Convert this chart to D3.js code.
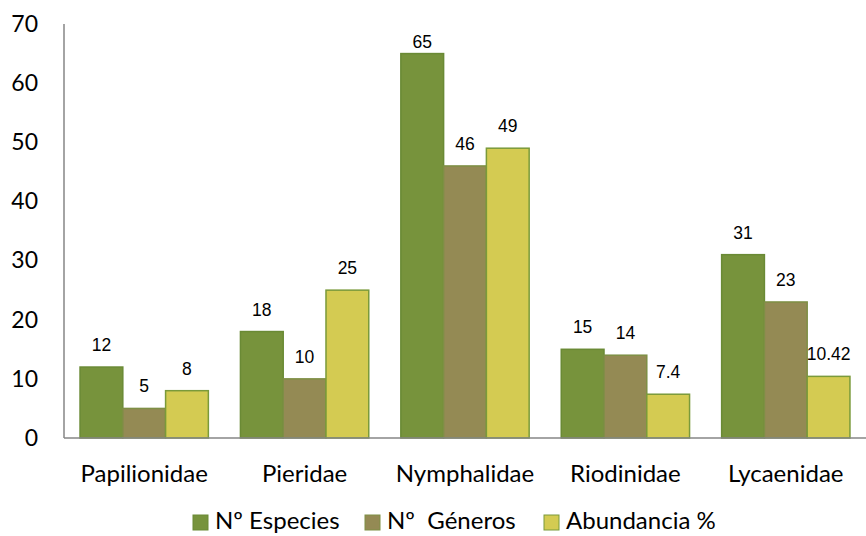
<!DOCTYPE html>
<html><head><meta charset="utf-8">
<script src="https://cdn.jsdelivr.net/npm/d3@7"></script>
<style>body{margin:0;background:#fff}svg{display:block}</style>
</head><body><svg id="c" width="866" height="536"></svg>
<script>
const categories = ["Papilionidae","Pieridae","Nymphalidae","Riodinidae","Lycaenidae"];
const seriesNames = ["Nº Especies","Nº  Géneros","Abundancia %"];
const especies = [12,18,65,15,31];
const generos = [5,10,46,14,23];
const abundancia = [8,25,49,7.4,10.42];
const labelsText = [["12","18","65","15","31"],["5","10","46","14","23"],["8","25","49","7.4","10.42"]];
const yTicks = [0,10,20,30,40,50,60,70];
const colors = ["#77933C","#948A54","#D4CB52"];
const strokes = ["#6A8A35","#7E8F45","#7A9A3A"];
const series = [especies, generos, abundancia];

const FONT = "Lato, 'Open Sans', sans-serif";
const svg = d3.select("#c");
const mLeft = 64, mRight = 866, mTop = 24, mBottom = 438;
const x = d3.scaleBand().domain(categories).range([mLeft, mRight]).paddingInner(0.2).paddingOuter(0.1);
const xs = d3.scaleBand().domain(d3.range(3)).range([0, x.bandwidth()]);
const y = d3.scaleLinear().domain([0,70]).range([mBottom, mTop]);

// y axis line
svg.append("line").attr("x1",mLeft).attr("x2",mLeft).attr("y1",mTop).attr("y2",mBottom).attr("stroke","#868686").attr("stroke-width",1.5);
const yAxis = d3.axisLeft(y).tickValues(yTicks).tickSize(0).tickPadding(26);
const ga = svg.append("g").attr("transform",`translate(${mLeft},0)`).call(yAxis);
ga.select(".domain").remove();
ga.selectAll("text").attr("font-family",FONT).attr("font-size",23).attr("font-weight",400).attr("fill","#000");

// bars
series.forEach((vals, si) => {
  const g = svg.append("g");
  g.selectAll("rect").data(vals).join("rect")
    .attr("x",(d,i)=>x(categories[i])+xs(si))
    .attr("y",d=>y(d))
    .attr("width",xs.bandwidth())
    .attr("height",d=>y(0)-y(d))
    .attr("fill",colors[si]).attr("stroke",strokes[si]).attr("stroke-width",1.5);
  g.selectAll("text").data(vals).join("text")
    .attr("x",(d,i)=>x(categories[i])+xs(si)+xs.bandwidth()/2)
    .attr("y",d=>Math.max(y(d)-16, 48))
    .attr("text-anchor","middle")
    .attr("font-family","'Liberation Sans', Arial, sans-serif").attr("font-size",17.5).attr("fill","#000")
    .text((d,i)=>labelsText[si][i]);
});

// x axis
const xAxis = d3.axisBottom(x).tickSize(0).tickPadding(27);
const gx = svg.append("g").attr("transform",`translate(0,${mBottom})`).call(xAxis);
gx.select(".domain").attr("stroke","#868686").attr("stroke-width",1.5).attr("d",`M${mLeft},0H${mRight}`);
gx.selectAll("text").attr("font-family",FONT).attr("font-size",24).attr("font-weight",400).attr("fill","#000");

// legend
const legX = [193, 365, 544];
const lg = svg.append("g");
seriesNames.forEach((n,i)=>{
  lg.append("rect").attr("x",legX[i]).attr("y",515).attr("width",15).attr("height",15)
    .attr("fill",colors[i]).attr("stroke",strokes[i]).attr("stroke-width",1);
  lg.append("text").attr("x",legX[i]+22).attr("y",529).attr("font-family",FONT).attr("font-weight",400)
    .attr("font-size",24).attr("fill","#000").style("white-space","pre").text(n);
});
</script></body></html>
